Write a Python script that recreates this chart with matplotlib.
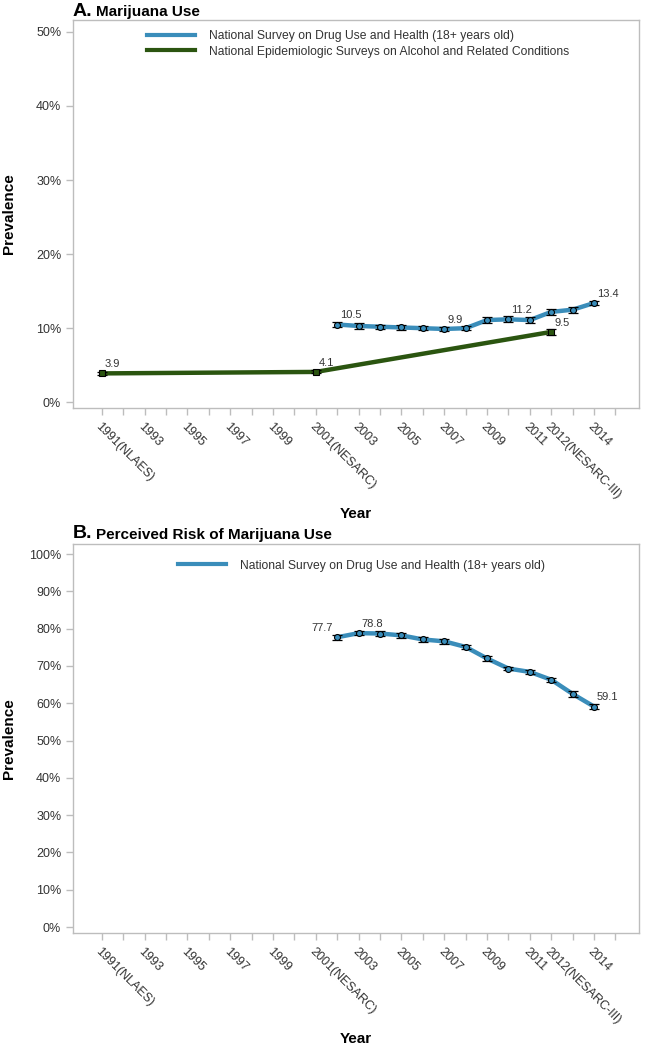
import matplotlib
matplotlib.use("Agg")
import matplotlib.pyplot as plt

# ---------------- data ----------------
nsduh_years = [2002, 2003, 2004, 2005, 2006, 2007, 2008, 2009, 2010, 2011, 2012, 2013, 2014]
nsduh_use = [10.5, 10.3, 10.2, 10.1, 10.0, 9.9, 10.0, 11.1, 11.2, 11.1, 12.2, 12.5, 13.4]
nsduh_use_err = [0.4, 0.4, 0.3, 0.3, 0.3, 0.3, 0.3, 0.4, 0.4, 0.4, 0.4, 0.4, 0.3]
nesarc_years = [1991, 2001, 2012]
nesarc_use = [3.9, 4.1, 9.5]
nesarc_use_err = [0.2, 0.2, 0.4]
risk_years = [2002, 2003, 2004, 2005, 2006, 2007, 2008, 2009, 2010, 2011, 2012, 2013, 2014]
risk_vals = [77.7, 78.8, 78.7, 78.2, 77.1, 76.6, 75.1, 72.0, 69.3, 68.4, 66.3, 62.5, 59.1]
risk_err = [0.7, 0.6, 0.6, 0.6, 0.6, 0.6, 0.6, 0.6, 0.5, 0.6, 0.5, 0.7, 0.6]

use_labels = {2002: "10.5", 2007: "9.9", 2010: "11.2", 2014: "13.4"}
nesarc_labels = {1991: "3.9", 2001: "4.1", 2012: "9.5"}
risk_labels = {2003: "78.8", 2014: "59.1"}
risk_left_labels = {2002: "77.7"}

tick_years = [1991, 1993, 1995, 1997, 1999, 2001, 2003, 2005, 2007, 2009, 2011, 2012, 2014]
tick_text = ["1991(NLAES)", "1993", "1995", "1997", "1999", "2001(NESARC)", "2003", "2005",
             "2007", "2009", "2011", "2012(NESARC-III)", "2014"]
minor_years = list(range(1991, 2016))

leg_nsduh = "National Survey on Drug Use and Health (18+ years old)"
leg_nesarc = "National Epidemiologic Surveys on Alcohol and Related Conditions"

BLUE = "#3a8dba"
GREEN = "#2b5510"
GRAY = "#333333"
FRAME = "#bdbdbd"

plt.rcParams['font.family'] = ['Liberation Sans', 'DejaVu Sans']

fig = plt.figure(figsize=(6.49, 10.5), dpi=100)
W, H = 649, 1050

def ax_rect(left, top, right, bottom):
    return [left / W, 1 - bottom / H, (right - left) / W, (bottom - top) / H]

axA = fig.add_axes(ax_rect(73, 20, 639, 408))
axB = fig.add_axes(ax_rect(73, 544, 639, 933))


def style(ax, yticks):
    ax.set_xlim(1989.65, 2016.1)
    ax.set_xticks(minor_years, minor=True)
    ax.set_xticks(tick_years)
    ax.set_xticklabels(tick_text, rotation=-45, ha='left', va='top',
                       rotation_mode='anchor', fontsize=9, color=GRAY)
    ax.set_yticks(yticks)
    ax.set_yticklabels([f"{v}%" for v in yticks], fontsize=9, color=GRAY)
    for s in ax.spines.values():
        s.set_color(FRAME)
        s.set_linewidth(1.0)
    ax.tick_params(axis='both', which='both', color=FRAME, length=5, width=1)
    ax.tick_params(axis='x', which='major', pad=4)
    ax.set_xlabel("Year", fontsize=11, fontweight='bold', labelpad=4, color='black')
    ax.set_ylabel("Prevalence", fontsize=11, fontweight='bold', color='black')


def series(ax, x, y, err, color, marker, zorder=3):
    ax.plot(x, y, color=color, lw=3.2, solid_capstyle='butt', zorder=zorder)
    ax.errorbar(x, y, yerr=err, fmt='none', ecolor='black', elinewidth=0.9,
                capsize=3.4, capthick=0.9, zorder=zorder + 1)
    ax.plot(x, y, linestyle='none', marker=marker, ms=4.3, mfc=color, mec='black',
            mew=0.8, zorder=zorder + 2)


def label(ax, x, y, txt, left=False):
    if left:
        ax.annotate(txt, (x, y), xytext=(-3, 3), textcoords='offset points',
                    fontsize=8, color=GRAY, ha='right', va='bottom')
    else:
        ax.annotate(txt, (x, y), xytext=(2, 3), textcoords='offset points',
                    fontsize=8, color=GRAY, ha='left', va='bottom')


# ---------- Panel A ----------
style(axA, [0, 10, 20, 30, 40, 50])
axA.set_ylim(-0.77, 51.6)
series(axA, nesarc_years, nesarc_use, nesarc_use_err, GREEN, 's', zorder=3)
series(axA, nsduh_years, nsduh_use, nsduh_use_err, BLUE, 'o', zorder=6)
for x, y in zip(nsduh_years, nsduh_use):
    if x in use_labels:
        label(axA, x, y, use_labels[x])
for x, y in zip(nesarc_years, nesarc_use):
    if x in nesarc_labels:
        label(axA, x, y, nesarc_labels[x])
axA.yaxis.set_label_coords(-0.1, 0.5)

axA.legend([plt.Line2D([], [], color=BLUE, lw=3), plt.Line2D([], [], color=GREEN, lw=3)],
           [leg_nsduh, leg_nesarc], loc='upper left', bbox_to_anchor=(0.122, 0.987),
           borderaxespad=0, frameon=False, fontsize=8.7, handlelength=4.0,
           handletextpad=1.1, labelspacing=0.3, labelcolor=GRAY)

# ---------- Panel B ----------
style(axB, list(range(0, 101, 10)))
axB.set_ylim(-1.6, 102.7)
series(axB, risk_years, risk_vals, risk_err, BLUE, 'o', zorder=6)
for x, y in zip(risk_years, risk_vals):
    if x in risk_labels:
        label(axB, x, y, risk_labels[x])
    if x in risk_left_labels:
        label(axB, x, y, risk_left_labels[x], left=True)
axB.yaxis.set_label_coords(-0.1, 0.5)

axB.legend([plt.Line2D([], [], color=BLUE, lw=3)], [leg_nsduh], loc='upper left',
           bbox_to_anchor=(0.177, 0.972), borderaxespad=0, frameon=False, fontsize=8.7,
           handlelength=4.0, handletextpad=1.1, labelcolor=GRAY)

# ---------- Titles ----------
def panel_title(letter, text, ytop):
    fig.text(73 / W, 1 - ytop / H, letter, fontsize=14, fontweight='bold',
             ha='left', va='center')
    fig.text(96 / W, 1 - (ytop + 1) / H, text, fontsize=11, fontweight='bold',
             ha='left', va='center')

panel_title("A.", "Marijuana Use", 11)
panel_title("B.", "Perceived Risk of Marijuana Use", 534)

fig.savefig("out.png", dpi=100)
